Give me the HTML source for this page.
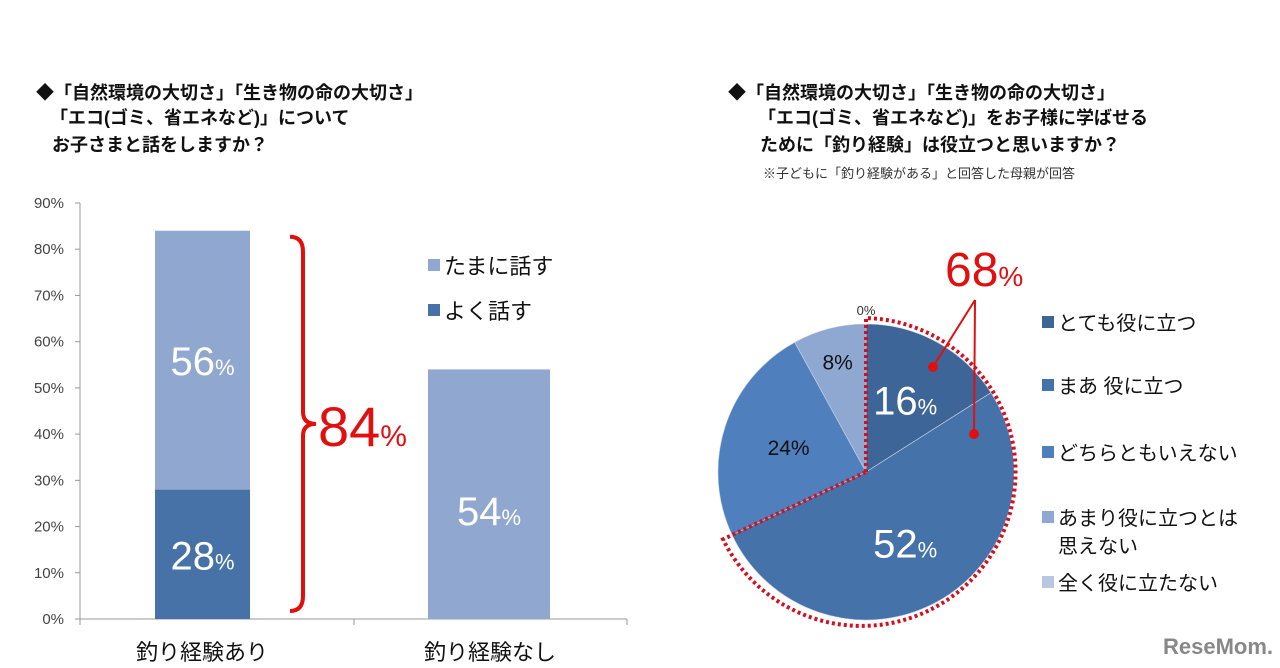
<!DOCTYPE html>
<html><head><meta charset="utf-8"><style>
body{margin:0;width:1280px;height:668px;background:#fff;overflow:hidden;font-family:"Liberation Sans","Noto Sans CJK JP",sans-serif}
svg{position:absolute;left:0;top:0}
</style></head><body>
<svg width="1280" height="668" font-family="Liberation Sans, Noto Sans CJK JP, sans-serif">
<g font-size="18" font-weight="bold" fill="#111">
<text x="36" y="99">◆「自然環境の大切さ」「生き物の命の大切さ」</text>
<text x="50" y="124">「エコ(ゴミ、省エネなど)」について</text>
<text x="52" y="151">お子さまと話をしますか？</text>
</g>
<g font-size="18" font-weight="bold" fill="#111">
<text x="728" y="99">◆「自然環境の大切さ」「生き物の命の大切さ」</text>
<text x="758" y="124">「エコ(ゴミ、省エネなど)」をお子様に学ばせる</text>
<text x="760" y="151">ために「釣り経験」は役立つと思いますか？</text>
<text x="763" y="178" font-size="13" font-weight="normal" fill="#333">※子どもに「釣り経験がある」と回答した母親が回答</text>
</g>
<g id="bar"></g>
<g id="pie"></g>
<text x="1218" y="654" font-size="22" font-weight="bold" fill="#888" text-anchor="middle">ReseMom.</text>
</svg>
<script>
const NS="http://www.w3.org/2000/svg";
const barCats=["釣り経験あり","釣り経験なし"];
const often=[28,0];
const sometimes=[56,54];
const yTicks=[0,10,20,30,40,50,60,70,80,90];
const pieLabels=["とても役に立つ","まあ 役に立つ","どちらともいえない","あまり役に立つとは思えない","全く役に立たない"];
const pieValues=[16,52,24,8,0];
const pieColors=["#3e6597","#4572a8","#4f7fbd","#8fa8d2","#b8c8e2"];
function mk(p,t,a,txt){const e=document.createElementNS(NS,t);for(const k in a)e.setAttribute(k,a[k]);if(txt!=null)e.textContent=txt;p.appendChild(e);return e;}
const bar=document.getElementById('bar');
const y=v=>619-v*(619-203)/90;
const x0=80,x1=627;
const bx=i=>[155,428][i], bw=i=>[95,122][i];
for(const t of yTicks){
 const e=mk(bar,'text',{x:64,y:y(t)+5,'font-size':15,fill:'#444','text-anchor':'end'},t+'%');
 
 
 mk(bar,'line',{x1:x0-5,x2:x0,y1:y(t),y2:y(t),stroke:'#999'});
}
mk(bar,'line',{x1:x0,x2:x0,y1:y(90),y2:y(0),stroke:'#999'});
mk(bar,'line',{x1:x0,x2:x1,y1:y(0),y2:y(0),stroke:'#999'});
[x0,354,x1].forEach(xx=>mk(bar,'line',{x1:xx,x2:xx,y1:y(0),y2:y(0)+6,stroke:'#999'}));
barCats.forEach((c,i)=>{
 const X=bx(i),W=bw(i);
 if(often[i]>0){const r=mk(bar,'rect',{x:X,y:y(often[i]),width:W,height:y(0)-y(often[i]),fill:'#4672a7'});
 
 mk(bar,'text',{x:X+W/2,y:(y(0)+y(often[i]))/2+15,'font-size':40,fill:'#fff','text-anchor':'middle'},often[i]).appendChild(mkspan());}
 const r2=mk(bar,'rect',{x:X,y:y(often[i]+sometimes[i]),width:W,height:y(often[i])-y(often[i]+sometimes[i]),fill:'#90a8cf'});
 
 
 const ty=(y(often[i])+y(often[i]+sometimes[i]))/2+(i==0?15:31);
 mk(bar,'text',{x:X+W/2,y:ty,'font-size':40,fill:'#fff','text-anchor':'middle'},sometimes[i]).appendChild(mkspan());
 const l=mk(bar,'text',{x:(i==0?202:490),y:660,'font-size':22,fill:'#111','text-anchor':'middle'},c);
 
});
function mkspan(){const s=document.createElementNS(NS,'tspan');s.setAttribute('font-size','22');s.textContent='%';return s;}
const bt=y(often[0]+sometimes[0])+6,bb=y(0)-8,bm=(bt+bb)/2;
mk(bar,'path',{d:`M290 ${bt} Q303 ${bt} 303 ${bt+15} L303 ${bm-12} Q303 ${bm} 316 ${bm} Q303 ${bm} 303 ${bm+12} L303 ${bb-15} Q303 ${bb} 290 ${bb}`,fill:'none',stroke:'#e01010','stroke-width':4});
const t84=mk(bar,'text',{x:318,y:bm+22,'font-size':56,fill:'#e01010'},often[0]+sometimes[0]);
const sp=mkspan();sp.setAttribute('font-size','30');t84.appendChild(sp);

[["たまに話す","#90a8cf",270],["よく話す","#4672a7",315]].forEach(([n,c,yy])=>{
 mk(bar,'rect',{x:428,y:yy-11,width:12,height:12,fill:c});
 const t=mk(bar,'text',{x:444,y:yy+4,'font-size':22,fill:'#111'},n);
 
});
const pie=document.getElementById('pie');
const cx=866,cy=472,R=148;
const pt=(a,r)=>[cx+r*Math.sin(a),cy-r*Math.cos(a)];
const tot=pieValues.reduce((a,b)=>a+b,0);
let acc=0;
pieValues.forEach((v,i)=>{
 const a0=acc/tot*2*Math.PI,a1=(acc+v)/tot*2*Math.PI;acc+=v;
 if(v<=0)return;
 const p0=pt(a0,R),p1=pt(a1,R);
 const s=mk(pie,'path',{d:`M${cx} ${cy} L${p0[0]} ${p0[1]} A${R} ${R} 0 ${a1-a0>Math.PI?1:0} 1 ${p1[0]} ${p1[1]} Z`,fill:pieColors[i],stroke:'#c8d4e6','stroke-width':0.6});
 
 const am=(a0+a1)/2,rr=i==0?0.55:(i==3?0.77:0.55),lp=pt(am,R*rr);
 const big=v>=10&&i!=2;
 const t=mk(pie,'text',{x:lp[0],y:lp[1]+(big?14:8),'font-size':big?40:21,fill:big?'#fff':'#111','text-anchor':'middle'},v+(big?'':'%'));
 if(big){const s2=mkspan();s2.setAttribute('font-size','22');t.appendChild(s2);}
 
});
mk(pie,'text',{x:866,y:315,'font-size':13,fill:'#333','text-anchor':'middle'},pieValues[4]+'%');
const top2=pieValues[0]+pieValues[1];
const aE=top2/tot*2*Math.PI,Ro=R+6;
const e1=pt(aE,Ro+4);
mk(pie,'path',{d:`M${cx} ${cy} L${cx} ${cy-R-6} A${Ro} ${Ro} 0 1 1 ${e1[0]} ${e1[1]} L${cx} ${cy}`,fill:'none',stroke:'#d41020','stroke-width':4,'stroke-dasharray':'3 3'});
const t68=mk(pie,'text',{x:945,y:286,'font-size':48,fill:'#e01010'},top2);
const s68=mkspan();s68.setAttribute('font-size','28');t68.appendChild(s68);

mk(pie,'path',{d:'M975 300 L933 367 M975 300 L974 434',stroke:'#e01010','stroke-width':2,fill:'none'});
mk(pie,'circle',{cx:933,cy:367,r:5,fill:'#e01010'});
mk(pie,'circle',{cx:974,cy:434,r:5,fill:'#e01010'});
const ly=[325,388,455,520,585];
pieLabels.forEach((n,i)=>{
 mk(pie,'rect',{x:1042,y:ly[i]-9,width:12,height:12,fill:pieColors[i]});
 let t;
 if(i==3){t=mk(pie,'text',{x:1058,y:ly[i]+5,'font-size':20,fill:'#111'},'あまり役に立つとは');mk(pie,'text',{x:1058,y:ly[i]+33,'font-size':20,fill:'#111'},'思えない');}
 else t=mk(pie,'text',{x:1058,y:ly[i]+5,'font-size':20,fill:'#111'},n);
 
});
</script>
</body></html>
